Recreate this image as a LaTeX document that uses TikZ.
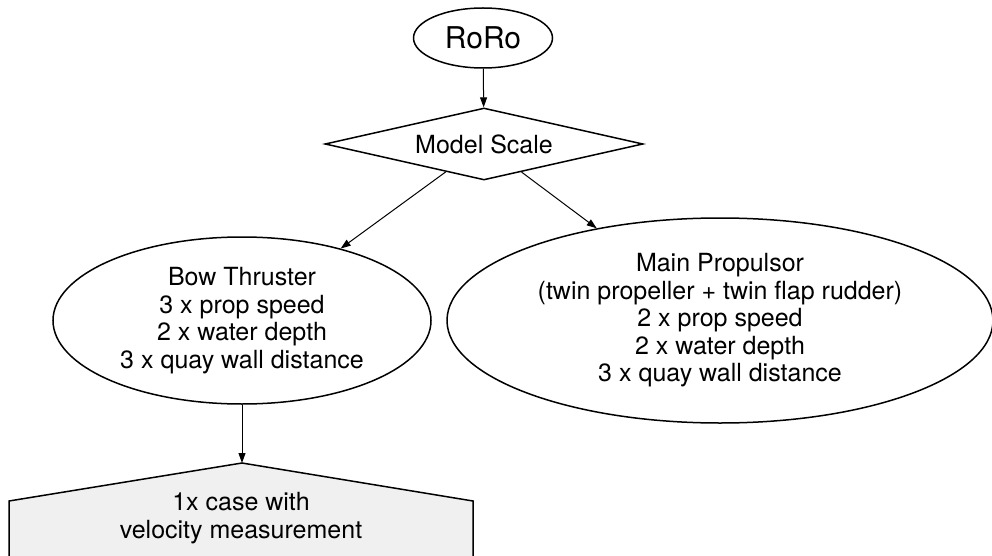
\documentclass[tikz,border=0pt]{standalone}
\usepackage{fontspec}
\setmainfont{TeX Gyre Heros}
\usetikzlibrary{shapes.geometric,arrows.meta}
\tikzset{
  nodeline/.style={draw=black, line width=1.5pt},
  ell/.style={nodeline, ellipse, inner sep=0pt, align=center,
    font=\fontsize{25}{27.5}\selectfont},
  edge/.style={draw=black, line width=1pt, -{Triangle[length=10pt,width=7pt]}},
  housebox/.style={nodeline, fill=black!6, line join=miter},
  bodytext/.style={inner sep=0pt, align=center, font=\fontsize{25}{27.5}\selectfont}
}
\begin{document}
\begin{tikzpicture}[x=1pt, y=-1pt]
\useasboundingbox (0,0) rectangle (992,556);
\clip (0,0) rectangle (992,556);
\node[ell, minimum width=139pt, minimum height=60pt,
  font=\fontsize{30}{36}\selectfont] (roro) at (483,38) {RoRo};
\node[nodeline, diamond, inner sep=0pt, shape aspect=4.4,
  minimum width=318pt, minimum height=72pt,
  font=\fontsize{25}{27.5}\selectfont] (scale) at (484,144) {Model Scale};
\node[ell, minimum width=378pt, minimum height=167pt] (bow) at (242,320.5)
  {Bow Thruster\\3 x prop speed\\2 x water depth\\3 x quay wall distance};
\node[ell, minimum width=546pt, minimum height=205pt] (main) at (720,320.5)
  {Main Propulsor\\(twin propeller + twin flap rudder)\\2 x prop speed\\2 x water depth\\3 x quay wall distance};
\coordinate (apex) at (242,463);
\draw[housebox] (apex) -- (473,501) -- (473,590) -- (9,590) -- (9,501) -- cycle;
\node[bodytext] (case) at (241,518) {1x case with\\velocity measurement};
\draw[edge] (roro) -- (scale);
\draw[edge] (scale) -- (bow);
\draw[edge] (scale) -- (main);
\draw[edge] (bow) -- (apex);
\end{tikzpicture}
\end{document}
